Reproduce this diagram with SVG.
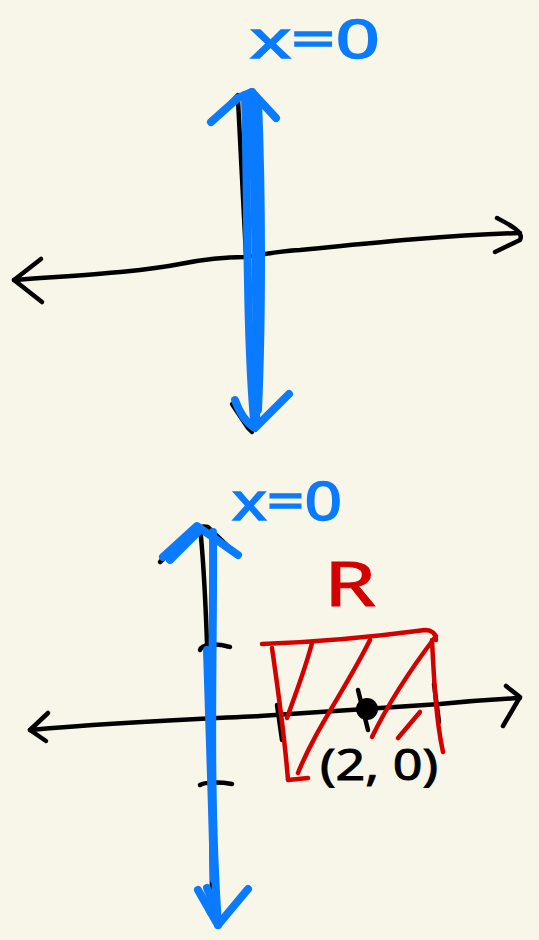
<svg xmlns="http://www.w3.org/2000/svg" width="539" height="940" viewBox="0 0 539 940">
<style>
.bk{fill:none;stroke:#000;stroke-width:4.5;stroke-linecap:round;stroke-linejoin:round}
.bl{fill:none;stroke:#0a7bff;stroke-width:8;stroke-linecap:round;stroke-linejoin:round}
.rd{fill:none;stroke:#d40000;stroke-width:4.5;stroke-linecap:round;stroke-linejoin:round}
.tb{fill:#0a7bff;stroke:#0a7bff;stroke-width:1.5;font-family:"Noto Sans",sans-serif;font-size:52px}
.tr{fill:#d40000;stroke:#d40000;stroke-width:1;font-family:"Noto Sans",sans-serif;font-size:62px}
.tk{fill:#000;stroke:#000;stroke-width:1;font-family:"Noto Sans",sans-serif;font-size:44px}
</style>
<rect width="539" height="940" fill="#f8f6e9"/>
<g id="top-graph">
  <g id="top-xaxis">
    <path class="bk" d="M14 280 C80 275 140 272 180 264 C210 258 230 257 245 257 C265 254 280 251 300 250 C380 242 450 235 520 233"/>
    <path class="bk" d="M41 259 L14 280 L42 302"/>
    <path class="bk" d="M497 218 C512 226 524 232 520 240 L495 252"/>
  </g>
  <g id="top-line">
    <path class="bk" d="M238 100 C244 200 248 300 255 430"/>
    <path class="bk" d="M222 112 L238 95 L258 110"/>
    <path class="bk" d="M232 404 L248 428 L252 432"/>
    <path class="bl" d="M252 92 C254 180 258 300 256 425"/>
    <path class="bl" d="M245 95 C248 200 246 330 254 420"/>
    <path class="bl" d="M258 100 C262 200 262 320 258 410"/>
    <path class="bl" d="M211 122 L238 98 L252 92 L276 118"/>
    <path class="bl" d="M235 400 C240 414 248 424 255 428 L289 394"/>
    <text class="tb" x="250" y="58" textLength="130" lengthAdjust="spacingAndGlyphs">x=0</text>
  </g>
</g>
<g id="bottom-graph">
  <g id="bottom-xaxis">
    <path class="bk" d="M30 730 C120 722 200 719 260 716 C320 712 380 708 440 704 C470 701 500 699 520 698"/>
    <path class="bk" d="M48 713 L30 730 L46 741"/>
    <path class="bk" d="M506 686 L520 697 L503 726"/>
    <path class="bk" d="M277 705 L282 740"/>
    <path class="bk" d="M434 684 L439 722"/>
    <path class="bk" d="M200 650 C202 644 215 643 230 647"/>
    <path class="bk" d="M200 785 C205 782 220 782 232 784"/>
    <path class="bk" d="M358 690 L368 730"/>
    <circle cx="367" cy="709" r="11" fill="#000"/>
  </g>
  <g id="bottom-line">
    <path class="bk" d="M200 527 C208 600 212 800 212 915"/>
    <path class="bk" d="M160 562 L183 540 C190 530 198 525 208 527 L232 550"/>
    <path class="bk" d="M203 900 L210 914"/>
    <path class="bl" d="M213 532 C214 650 208 780 218 925"/>
    <path class="bl" d="M207 650 C210 750 212 800 214 880"/>
    <path class="bl" d="M163 557 L197 526 L238 555"/>
    <path class="bl" d="M170 560 L200 530"/>
    <path class="bl" d="M198 890 L218 925 L248 889"/>
    <path class="bl" d="M207 888 L214 905"/>
    <text class="tb" x="232" y="520" textLength="110" lengthAdjust="spacingAndGlyphs">x=0</text>
  </g>
  <g id="region-R">
    <path class="rd" d="M262 644 C320 642 380 636 425 630 C432 630 436 634 436 640"/>
    <path class="rd" d="M272 648 C278 690 284 730 288 780 L308 778"/>
    <path class="rd" d="M432 640 C434 680 436 720 443 752"/>
    <path class="rd" d="M312 643 C305 670 295 695 287 718"/>
    <path class="rd" d="M370 640 C345 690 315 730 298 773"/>
    <path class="rd" d="M436 636 C410 670 390 700 372 737"/>
    <path class="rd" d="M420 712 L398 738"/>
    <text class="tr" x="324" y="606" textLength="52" lengthAdjust="spacingAndGlyphs">R</text>
  </g>
  <text class="tk" x="320" y="780" textLength="118" lengthAdjust="spacingAndGlyphs">(2, 0)</text>
</g>
</svg>
